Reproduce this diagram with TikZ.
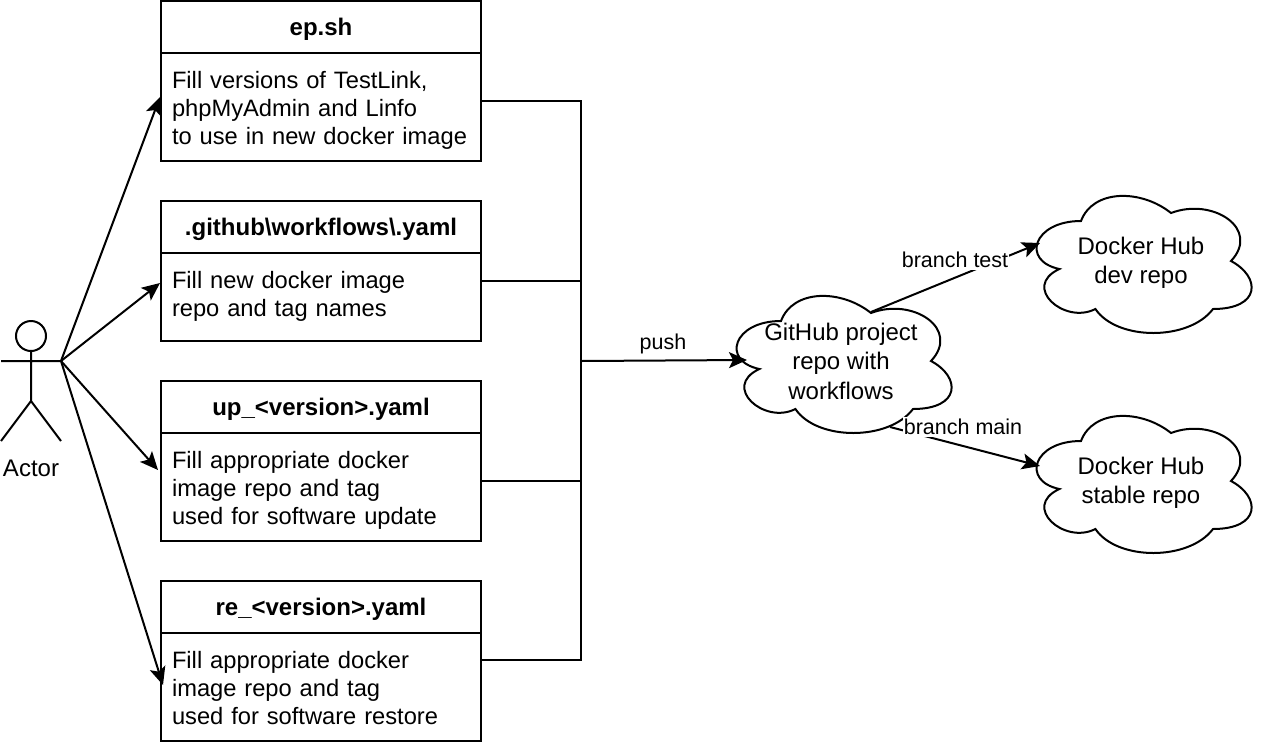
\documentclass[tikz,border=0pt]{standalone}
\usepackage{fontspec}
\setmainfont{Liberation Sans}
\usetikzlibrary{arrows.meta}
\tikzset{
  every path/.style={line width=2pt},
  boxhead/.style={draw,minimum width=320pt,minimum height=52pt,text height=21.5pt,text depth=5pt,font=\fontsize{24}{28}\selectfont\bfseries},
  boxbody/.style={draw,minimum width=320pt,text width=298pt,inner xsep=11pt,align=left,text height=23.5pt,font=\fontsize{23.7}{28}\selectfont},
  cloudtext/.style={align=center,font=\fontsize{24}{29.5}\selectfont},
  edgetext/.style={fill=white,inner xsep=1pt,inner ysep=2pt,font=\fontsize{21.5}{24}\selectfont},
  flow/.style={-{Stealth[length=18pt,width=16pt,inset=4pt]}}
}
\newcommand{\cloudline}[1]{\draw[shift={(#1)}] (-60,-40) .. controls (-108,-40) and (-120,0) .. (-81.6,8)
  .. controls (-120,25.6) and (-76.8,64) .. (-45.6,48)
  .. controls (-24,80) and (48,80) .. (72,48)
  .. controls (120,48) and (120,16) .. (90,0)
  .. controls (120,-32) and (72,-64) .. (30,-48)
  .. controls (0,-72) and (-48,-72) .. (-60,-40) -- cycle;}
\begin{document}
\begin{tikzpicture}[x=1pt,y=-1pt]
\useasboundingbox (0,0) rectangle (1262,748);

% actor
\draw (31,336) circle (15);
\draw (31,351) -- (31,401) (1,361) -- (61,361) (1,441) -- (31,401) -- (61,441);
\coordinate (hand) at (61,361);
\node[font=\fontsize{24}{28}\selectfont] (actor) at (31,468) {Actor};

% boxes
\node[boxhead] (ephead) at (321,27) {ep.sh};
\node[boxbody,minimum height=108pt] (epbody) at (321,107) {Fill versions of TestLink,\\phpMyAdmin and Linfo\\to use in new docker image};
\node[boxhead] (wfhead) at (321,227) {.github\textbackslash workflows\textbackslash.yaml};
\node[boxbody,minimum height=88pt,text height=15.5pt] (wfbody) at (321,297) {Fill new docker image\\repo and tag names};
\node[boxhead] (uphead) at (321,407) {up\_<version>.yaml};
\node[boxbody,minimum height=108pt] (upbody) at (321,487) {Fill appropriate docker\\image repo and tag\\used for software update};
\node[boxhead] (rehead) at (321,607) {re\_<version>.yaml};
\node[boxbody,minimum height=108pt] (rebody) at (321,687) {Fill appropriate docker\\image repo and tag\\used for software restore\vphantom{p}};

% clouds
\node[cloudtext] (github) at (841,361) {GitHub project\\repo with\\workflows};
\node[cloudtext,text height=50pt] (dev) at (1141,261) {Docker Hub\\dev repo};
\node[cloudtext,text height=50pt] (stable) at (1141,481) {Docker Hub\\stable repo};
\cloudline{github.center}
\cloudline{dev.center}
\cloudline{stable.center}

% arrow ends and line starts
\coordinate (eptip) at (160,97);
\coordinate (wftip) at (160,283);
\coordinate (uptip) at (158,470);
\coordinate (retip) at (163,685);
\coordinate (epout) at (481,101);
\coordinate (wfout) at (481,281);
\coordinate (upout) at (481,481);
\coordinate (reout) at (481,660);
\coordinate (bus) at (581,361);
\coordinate (pushtip) at (747,360);
\coordinate (testout) at (871,312);
\coordinate (testtip) at (1040,243);
\coordinate (mainout) at (890,427);
\coordinate (maintip) at (1040,466);

\foreach \b in {ep,wf,up,re}
\draw[flow] (hand) -- (\b tip);
\foreach \b in {ep,wf,up,re}
\draw (\b out) -| (bus);

\draw[flow] (bus) -- (pushtip);
\draw[flow] (testout) -- (testtip);
\draw[flow] (mainout) -- (maintip);

\node[font=\fontsize{21.5}{24}\selectfont] (pushlabel) at (663,344) {push};
\node[edgetext] (testlabel) at (955,260) {branch test};
\node[edgetext] (mainlabel) at (963,427) {branch main};
\end{tikzpicture}
\end{document}
